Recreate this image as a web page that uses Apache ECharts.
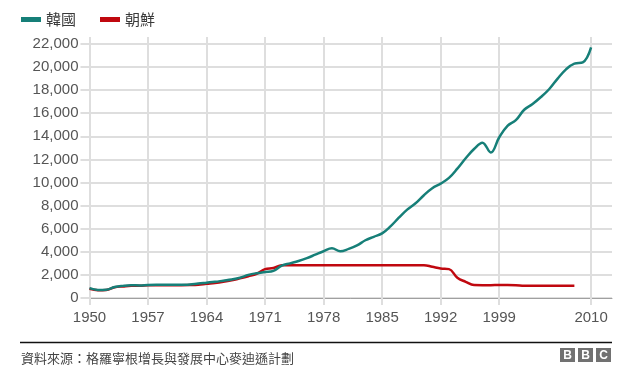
<!DOCTYPE html>
<html><head><meta charset="utf-8">
<script src="https://cdn.jsdelivr.net/npm/echarts@6/dist/echarts.min.js"></script>
<style>html,body{margin:0;padding:0;background:#fff}#c{width:630px;height:379px}</style>
</head><body><div id="c"></div>
<script>
const years = [];
for (let y = 1950; y <= 2010; y++) years.push(y);
const korea = [850,700,720,950,1050,1100,1090,1130,1140,1140,1140,1150,1170,1260,1330,1400,1500,1600,1750,2000,2150,2250,2350,2800,3000,3200,3450,3750,4050,4300,4050,4250,4550,5000,5300,5600,6200,6950,7650,8200,8900,9500,9900,10400,11200,12100,12900,13450,12600,13900,14900,15400,16300,16800,17400,18100,19000,19800,20300,20400,21700];
const nkYears = [];
for (let y = 1950; y <= 2008; y++) nkYears.push(y);
const northKorea = [800,680,700,930,1000,1050,1050,1100,1110,1110,1110,1110,1120,1150,1230,1300,1400,1530,1700,1880,2100,2500,2600,2840,2840,2840,2840,2840,2840,2840,2840,2840,2840,2840,2840,2840,2840,2840,2840,2840,2840,2700,2550,2500,1750,1400,1120,1110,1110,1120,1120,1110,1050,1050,1050,1050,1050,1050,1050];
const xTicks = [1950,1957,1964,1971,1978,1985,1992,1999,2010];
const yTicks = [0,2000,4000,6000,8000,10000,12000,14000,16000,18000,20000,22000];
const seriesNames = ['韓國','朝鮮'];
const sourceText = '資料來源：格羅寧根增長與發展中心麥迪遜計劃';

const chart = echarts.init(document.getElementById('c'), null, {renderer:'canvas'});
const FONT = '"Liberation Sans", Arial, "Noto Sans CJK TC", sans-serif';
const CJK = '"Noto Sans CJK TC", sans-serif';
const TEAL = '#167f78', RED = '#c0080f', GRID = '#dedede';
chart.setOption({
  animation:false,
  textStyle:{fontFamily:FONT},
  legend:{
    left:16, top:7, itemWidth:20, itemHeight:5, itemGap:24, icon:'rect',
    textStyle:{fontSize:15, color:'#3a3a3a', fontFamily:CJK},
    data:seriesNames
  },
  grid:{left:89.5, right:18, top:37, bottom:81, containLabel:false},
  xAxis:{
    type:'value', min:1950, max:2012.5,
    axisLine:{show:true, lineStyle:{color:'#a0a0a0', width:1}},
    axisTick:{show:true, length:7, customValues:xTicks, lineStyle:{color:GRID, width:2}},
    axisLabel:{customValues:xTicks, fontSize:15, color:'#555', margin:12, formatter:v=>String(v)},
    splitLine:{show:true, lineStyle:{color:GRID, width:2}}
  },
  yAxis:{
    type:'value', min:0, max:22600,
    axisLine:{show:false},
    axisTick:{show:true, length:9, customValues:yTicks, lineStyle:{color:GRID, width:2}},
    axisLabel:{customValues:yTicks, fontSize:15, color:'#555', margin:11,
      formatter:v=>v.toLocaleString('en-US')},
    splitLine:{show:true, lineStyle:{color:GRID, width:2}}
  },
  series:[
    {name:seriesNames[1], type:'line', showSymbol:false, smooth:0.4, z:2,
     lineStyle:{color:RED, width:2.5}, itemStyle:{color:RED},
     data:nkYears.map((y,i)=>[y,northKorea[i]])},
    {name:seriesNames[0], type:'line', showSymbol:false, smooth:0.4, z:3,
     lineStyle:{color:TEAL, width:2.5}, itemStyle:{color:TEAL},
     data:years.map((y,i)=>[y,korea[i]])}
  ],
  graphic:[
    {type:'line', shape:{x1:20, y1:342.5, x2:612, y2:342.5}, style:{stroke:'#111', lineWidth:1.5}},
    {type:'text', x:21, y:358, style:{text:sourceText, fontSize:13, fill:'#444', verticalAlign:'middle', fontFamily:CJK}},
    {type:'group', x:560, y:348, children:[
      {type:'rect', shape:{x:0,y:0,width:15,height:14}, style:{fill:'#717171'}},
      {type:'rect', shape:{x:18,y:0,width:15,height:14}, style:{fill:'#717171'}},
      {type:'rect', shape:{x:36,y:0,width:15,height:14}, style:{fill:'#717171'}},
      {type:'text', x:7.5, y:7.5, style:{text:'B', fill:'#fff', fontSize:12, fontWeight:'bold', align:'center', verticalAlign:'middle', fontFamily:FONT}},
      {type:'text', x:25.5, y:7.5, style:{text:'B', fill:'#fff', fontSize:12, fontWeight:'bold', align:'center', verticalAlign:'middle', fontFamily:FONT}},
      {type:'text', x:43.5, y:7.5, style:{text:'C', fill:'#fff', fontSize:12, fontWeight:'bold', align:'center', verticalAlign:'middle', fontFamily:FONT}}
    ]}
  ]
});
</script></body></html>
